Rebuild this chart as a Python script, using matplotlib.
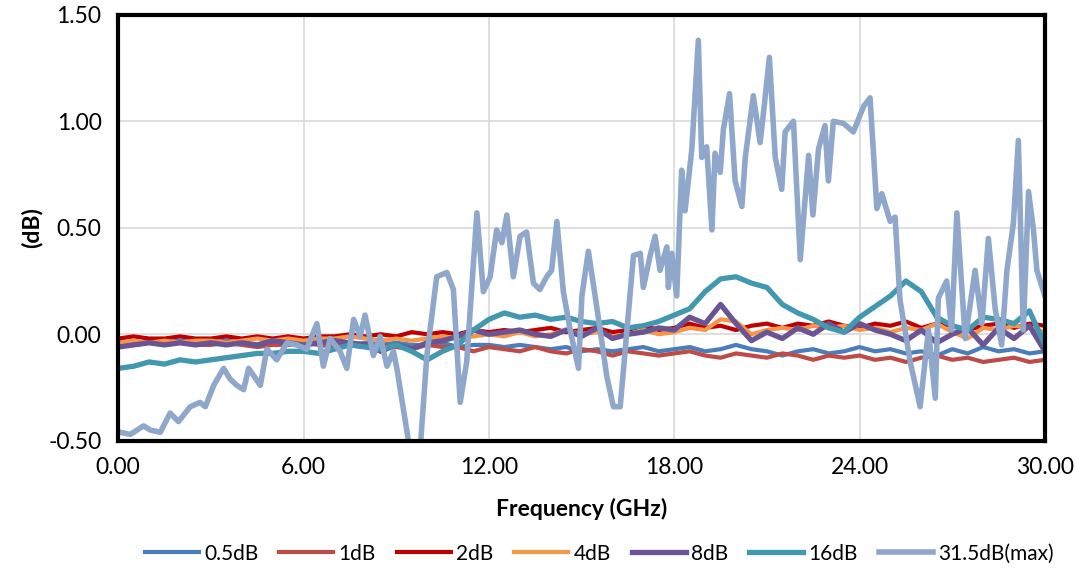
import numpy as np
import matplotlib.pyplot as plt

plt.rcParams['font.family'] = ['Lato', 'DejaVu Sans']

# 31.5dB(max) trace
f_max = [0.06, 0.39, 0.82, 1.04, 1.36, 1.68, 1.95, 2.33, 2.65, 2.82, 3.09, 3.41, 3.62, 3.84,
         4.06, 4.22, 4.60, 4.81, 5.13, 5.46, 5.78, 6.10, 6.43, 6.64, 6.86, 7.18, 7.40, 7.62,
         7.83, 7.99, 8.26, 8.48, 8.70, 8.91, 9.02, 9.23, 9.45, 9.77, 9.99, 10.31, 10.64, 10.85,
         11.07, 11.28, 11.61, 11.82, 12.04, 12.25, 12.42, 12.58, 12.79, 13.01, 13.22, 13.44,
         13.65, 13.87, 14.03, 14.20, 14.41, 14.63, 14.90, 15.01, 15.22, 15.49, 15.82, 16.03,
         16.25, 16.36, 16.68, 16.90, 17.00, 17.22, 17.38, 17.54, 17.76, 17.81, 17.92, 18.08,
         18.24, 18.35, 18.57, 18.78, 18.89, 19.05, 19.22, 19.32, 19.49, 19.59, 19.79, 19.97,
         20.19, 20.30, 20.56, 20.78, 20.89, 21.08, 21.27, 21.48, 21.59, 21.86, 22.08, 22.35,
         22.49, 22.67, 22.88, 22.99, 23.15, 23.48, 23.80, 24.13, 24.34, 24.56, 24.72, 24.99,
         25.15, 25.31, 25.64, 25.96, 26.23, 26.45, 26.55, 26.82, 26.98, 27.15, 27.42, 27.74,
         27.96, 28.17, 28.39, 28.60, 28.77, 28.98, 29.14, 29.30, 29.47, 29.63, 29.74, 30.0]
v_max = [-0.46, -0.47, -0.43, -0.45, -0.46, -0.37, -0.41, -0.34, -0.32, -0.34, -0.24, -0.16,
         -0.21, -0.24, -0.26, -0.16, -0.24, -0.07, -0.12, -0.04, -0.05, -0.07, 0.05, -0.15,
         -0.02, -0.08, -0.16, 0.07, -0.01, 0.09, -0.10, -0.01, -0.15, -0.08, -0.16, -0.35,
         -0.55, -0.55, -0.10, 0.27, 0.29, 0.21, -0.32, -0.13, 0.57, 0.20, 0.27, 0.49, 0.43,
         0.56, 0.27, 0.46, 0.48, 0.24, 0.21, 0.27, 0.30, 0.53, 0.20, 0.02, -0.16, 0.18, 0.39,
         0.13, -0.20, -0.34, -0.34, -0.16, 0.37, 0.38, 0.22, 0.37, 0.46, 0.30, 0.41, 0.22,
         0.38, 0.18, 0.77, 0.58, 0.87, 1.38, 0.83, 0.88, 0.49, 0.85, 0.76, 0.96, 1.13, 0.72,
         0.60, 0.83, 1.12, 0.90, 1.04, 1.30, 0.83, 0.68, 0.95, 1.00, 0.35, 0.84, 0.56, 0.87,
         0.98, 0.72, 1.00, 0.99, 0.95, 1.07, 1.11, 0.59, 0.66, 0.53, 0.55, 0.16, -0.13, -0.34,
         0.02, -0.30, 0.17, 0.25, 0.02, 0.57, -0.02, 0.30, 0.05, 0.45, 0.12, -0.05, 0.30, 0.52,
         0.91, 0.02, 0.67, 0.49, 0.30, 0.18]

# other attenuation states, every 0.5 GHz
freq = [i * 0.5 for i in range(61)]
v_05 = [-0.03, -0.04, -0.03, -0.04, -0.03, -0.04, -0.04, -0.03, -0.04, -0.05, -0.04, -0.04,
        -0.05, -0.03, -0.04, -0.05, -0.04, -0.05, -0.04, -0.05, -0.05, -0.04, -0.06, -0.05,
        -0.05, -0.06, -0.05, -0.06, -0.07, -0.06, -0.08, -0.07, -0.08, -0.07, -0.06, -0.08,
        -0.07, -0.06, -0.08, -0.07, -0.05, -0.07, -0.08, -0.10, -0.08, -0.07, -0.09, -0.08,
        -0.06, -0.08, -0.07, -0.09, -0.08, -0.10, -0.07, -0.09, -0.06, -0.08, -0.07, -0.09, -0.08]
v_1 = [-0.04, -0.05, -0.04, -0.05, -0.04, -0.05, -0.05, -0.04, -0.05, -0.06, -0.05, -0.05,
       -0.04, -0.05, -0.06, -0.05, -0.06, -0.05, -0.06, -0.07, -0.05, -0.06, -0.06, -0.08,
       -0.06, -0.07, -0.08, -0.06, -0.08, -0.09, -0.07, -0.08, -0.10, -0.08, -0.09, -0.10,
       -0.09, -0.08, -0.10, -0.11, -0.09, -0.10, -0.11, -0.09, -0.10, -0.12, -0.10, -0.11,
       -0.10, -0.12, -0.11, -0.13, -0.11, -0.10, -0.12, -0.11, -0.13, -0.12, -0.11, -0.13, -0.12]
v_2 = [-0.02, -0.01, -0.02, -0.02, -0.01, -0.02, -0.02, -0.01, -0.02, -0.01, -0.02, -0.01,
       -0.02, -0.01, -0.01, 0.00, -0.01, 0.00, -0.01, 0.01, 0.00, 0.01, 0.00, 0.02, 0.01,
       0.02, 0.01, 0.02, 0.03, 0.01, 0.02, 0.03, 0.01, 0.02, 0.04, 0.02, 0.03, 0.05, 0.03,
       0.04, 0.02, 0.04, 0.05, 0.03, 0.05, 0.04, 0.06, 0.04, 0.03, 0.05, 0.04, 0.06, 0.03,
       0.05, 0.04, 0.02, 0.04, 0.05, 0.03, 0.05, 0.04]
v_4 = [-0.04, -0.03, -0.04, -0.03, -0.04, -0.03, -0.03, -0.04, -0.03, -0.02, -0.03, -0.02,
       -0.03, -0.02, -0.02, -0.01, -0.02, -0.03, -0.02, -0.03, -0.02, -0.01, -0.02, -0.01,
       0.00, -0.01, 0.01, -0.01, 0.00, 0.02, 0.00, 0.01, -0.01, 0.00, 0.02, 0.00, 0.01,
       0.03, 0.02, 0.07, 0.06, 0.00, 0.02, 0.03, 0.02, 0.04, 0.03, 0.04, 0.02, 0.03, 0.01,
       0.03, 0.02, 0.05, 0.01, -0.02, 0.03, 0.02, 0.04, 0.03, 0.01]
v_8 = [-0.06, -0.05, -0.04, -0.05, -0.04, -0.05, -0.04, -0.05, -0.04, -0.05, -0.03, -0.04,
       -0.05, -0.04, -0.03, -0.04, -0.05, -0.08, -0.05, -0.07, -0.04, -0.03, -0.01, 0.02,
       0.00, 0.01, 0.02, 0.00, -0.01, 0.02, -0.01, 0.03, -0.02, 0.00, 0.01, 0.03, 0.02,
       0.08, 0.05, 0.14, 0.05, -0.03, 0.01, -0.02, 0.03, 0.00, 0.05, 0.01, 0.05, 0.02, 0.00,
       -0.03, 0.02, -0.04, 0.00, 0.03, -0.05, 0.03, -0.02, 0.04, -0.08]
v_16 = [-0.16, -0.15, -0.13, -0.14, -0.12, -0.13, -0.12, -0.11, -0.10, -0.09, -0.09, -0.08,
        -0.08, -0.09, -0.07, -0.05, -0.06, -0.07, -0.05, -0.08, -0.12, -0.08, -0.05, 0.02,
        0.07, 0.10, 0.08, 0.09, 0.07, 0.08, 0.06, 0.05, 0.06, 0.03, 0.04, 0.06, 0.09, 0.12,
        0.20, 0.26, 0.27, 0.24, 0.22, 0.14, 0.10, 0.07, 0.03, 0.01, 0.08, 0.13, 0.18, 0.25,
        0.20, 0.08, 0.04, 0.02, 0.08, 0.07, 0.05, 0.11, -0.05]

series = [
    ('0.5dB', freq, v_05, '#4A7EBB', 3.0),
    ('1dB', freq, v_1, '#BE4B48', 3.0),
    ('2dB', freq, v_2, '#C00000', 3.0),
    ('4dB', freq, v_4, '#F79646', 3.0),
    ('8dB', freq, v_8, '#6A5494', 3.8),
    ('16dB', freq, v_16, '#4198AF', 3.8),
    ('31.5dB(max)', f_max, v_max, '#8EA7CB', 4.0),
]

fig = plt.figure(figsize=(10.75, 5.68), dpi=100)
ax = fig.add_axes([0.11, 0.224, 0.862, 0.75])
for name, x, y, c, lw in series:
    ax.plot(x, y, color=c, lw=lw, label=name, solid_joinstyle='round')

ax.set_xlim(0, 30)
ax.set_ylim(-0.5, 1.5)
ax.set_xticks(np.arange(0, 31, 6))
ax.set_xticklabels([f'{t:.2f}' for t in np.arange(0, 31, 6)], fontsize=16.5)
ax.set_yticks(np.arange(-0.5, 1.51, 0.5))
ax.set_yticklabels([f'{t:.2f}' for t in np.arange(-0.5, 1.51, 0.5)], fontsize=16.5)
ax.tick_params(length=0, pad=12)
ax.grid(color='#d9d9d9', lw=1.2)
ax.set_axisbelow(True)
for s in ax.spines.values():
    s.set_linewidth(3)
    s.set_color('black')
ax.set_xlabel('Frequency (GHz)', fontsize=16.5, fontweight='bold', labelpad=14)
ax.set_ylabel('(dB)', fontsize=16.5, fontweight='bold', labelpad=4)
ax.legend(loc='center', bbox_to_anchor=(0.519, -0.265), ncol=7, frameon=False,
          fontsize=15, handlelength=2.6, columnspacing=1.0, handletextpad=0.25)

fig.savefig('out.png', dpi=100)
